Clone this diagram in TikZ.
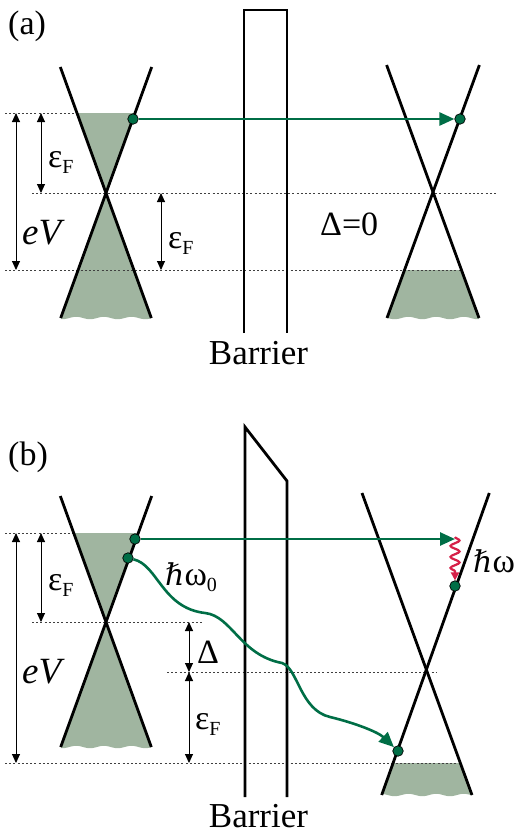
\documentclass[tikz,border=0pt]{standalone}
\usepackage{fontspec}
\setmainfont{Liberation Serif}
\newfontfamily\dvs{DejaVu Serif}
\usetikzlibrary{arrows.meta,decorations.pathmorphing}
\definecolor{gf}{RGB}{160,181,160}
\definecolor{eg}{RGB}{0,110,70}
\definecolor{wr}{RGB}{214,32,72}
\newcommand\mysub[1]{\raisebox{-6pt}{\fontsize{20}{20}\selectfont #1}}
\newcommand\myhbar{{\dvs\fontsize{30}{30}\selectfont ℏ}}
\tikzset{
  cone/.style={line width=2.8pt},
  bar/.style={line width=2.8pt, line join=miter},
  lvl/.style={line width=1pt, dash pattern=on 2pt off 2.2pt, draw=black!75},
  dim/.style={line width=0.9pt, {Triangle[length=9pt,width=8pt]}-{Triangle[length=9pt,width=8pt]}},
  garrow/.style={draw=eg, line width=2.6pt, -{Triangle[length=15pt,width=13pt]}},
  gdot/.style={circle, fill=eg, draw=black, line width=0.7pt, minimum size=10.5pt, inner sep=0pt},
  lbl/.style={anchor=base west, inner sep=0pt, font=\fontsize{34}{34}\selectfont},
  redwave/.style={draw=wr, line width=2.2pt, decorate,
     decoration={snake, amplitude=4.5pt, segment length=11pt, post length=7pt},
     -{Triangle[length=8pt,width=8pt]}},
}
\begin{document}
\begin{tikzpicture}[x=1pt,y=-1pt]
\useasboundingbox (0,0) rectangle (516,833);

% ---------------- panel (a) ----------------
% fills
\fill[gf] (77,113) -- (135,113) -- (106,193) -- cycle;
\fill[gf] (106,193) -- (151.3,318) -- plot[domain=151.3:60.7,samples=60] (\x,{318+1.2*sin(13*\x)}) -- cycle;
\fill[gf] (405.1,270) -- (460.9,270) -- (479,318) -- plot[domain=479:387,samples=60] (\x,{318+1.2*sin(13*\x)}) -- cycle;
% level lines
\draw[lvl] (5,113) -- (77,113);
\draw[lvl] (32,193) -- (497,193);
\draw[lvl] (5,270) -- (461,270);
% cones
\draw[cone] (60.3,67) -- (151.3,318);
\draw[cone] (151.7,67) -- (60.7,318);
\draw[cone] (386.6,65) -- (479,318);
\draw[cone] (479.4,65) -- (387,318);
% barrier
\draw[bar] (244,333) -- (244,10) -- (287,10) -- (287,333);
% dimension arrows
\coordinate (a1) at (16,113); \coordinate (a2) at (16,270);
\coordinate (a3) at (41,113); \coordinate (a4) at (41,193);
\coordinate (a5) at (161,193); \coordinate (a6) at (161,270);
\draw[dim] (a1) -- (a2);
\draw[dim] (a3) -- (a4);
\draw[dim] (a5) -- (a6);
% labels
\node[lbl] (la) at (8,34) {(a)};
\node[lbl] (laEF1) at (48,167) {ε\mysub{F}};
\node[lbl] (laEF2) at (168,248) {ε\mysub{F}};
\node[lbl, font=\fontsize{37}{37}\selectfont\itshape] (laeV) at (22,244) {eV};
\node[lbl] (laD) at (320,235) {Δ=0};
\node[anchor=base, inner sep=0pt, font=\fontsize{35}{35}\selectfont] (laB) at (258.5,364) {Barrier};
% tunnelling
\node[gdot] (dA1) at (133,119) {};
\node[gdot] (dA2) at (460,119) {};
\draw[garrow] (dA1) -- (dA2);

% ---------------- panel (b) ----------------
\fill[gf] (73.7,533) -- (138.3,533) -- (106,622) -- cycle;
\fill[gf] (106,622) -- (151.3,747) -- plot[domain=151.3:60.7,samples=60] (\x,{747+1.2*sin(13*\x)}) -- cycle;
\fill[gf] (393,763) -- (460.3,763) -- (472,795) -- plot[domain=472:381.7,samples=60] (\x,{795+1.2*sin(13*\x)}) -- cycle;
% level lines
\draw[lvl] (5,533) -- (74,533);
\draw[lvl] (32,622) -- (202,622);
\draw[lvl] (167,672) -- (437,672);
\draw[lvl] (5,763) -- (460,763);
% cones
\draw[cone] (60.3,496) -- (151.3,747);
\draw[cone] (151.7,496) -- (60.7,747);
\draw[cone] (362,493) -- (472,795);
\draw[cone] (489.3,493) -- (381.7,795);
% barrier
\draw[bar] (245,797) -- (245,427) -- (287,481) -- (287,797);
% dimension arrows
\coordinate (b1) at (16,533); \coordinate (b2) at (16,763);
\coordinate (b3) at (41,533); \coordinate (b4) at (41,622);
\coordinate (b5) at (189,622); \coordinate (b6) at (189,672);
\coordinate (b7) at (189,763);
\draw[dim] (b1) -- (b2);
\draw[dim] (b3) -- (b4);
\draw[dim] (b5) -- (b6);
\draw[dim] (b6) -- (b7);
% labels
\node[lbl] (lb) at (8,465) {(b)};
\node[lbl] (lbEF1) at (48,590) {ε\mysub{F}};
\node[lbl] (lbEF2) at (195,729) {ε\mysub{F}};
\node[lbl, font=\fontsize{37}{37}\selectfont\itshape] (lbeV) at (22,683) {eV};
\node[lbl] (lbD) at (197,663) {Δ};
\node[lbl] (lbw0) at (165,585) {\myhbar ω\mysub{0}};
\node[lbl] (lbw) at (473,572) {\myhbar ω};
\node[anchor=base, inner sep=0pt, font=\fontsize{35}{35}\selectfont] (lbB) at (258.5,827) {Barrier};
% processes
\node[gdot] (dB1) at (135,539) {};
\node[gdot] (dB2) at (128,558) {};
\node[gdot] (dB3) at (455,586) {};
\node[gdot] (dB4) at (398,751) {};
\coordinate (wS) at (455,539);
\draw[garrow] (dB1) -- (wS);
\draw[redwave] ([yshift=2pt]wS) -- (dB3);
\draw[garrow] (dB2) .. controls (158,565) and (162,608) .. (205,613)
   .. controls (232,616) and (240,655) .. (282,663)
   .. controls (298,668) and (300,710) .. (330,717)
   .. controls (355,723) and (378,732) .. (dB4);
\end{tikzpicture}
\end{document}
